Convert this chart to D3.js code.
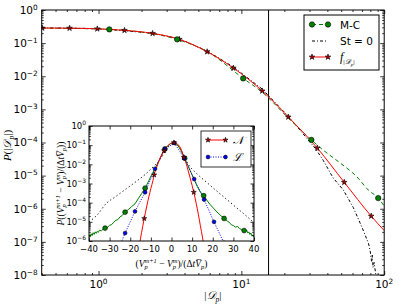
<!DOCTYPE html>
<html>
<head>
<meta charset="utf-8">
<script src="https://cdn.jsdelivr.net/npm/d3@7"></script>
<style>
body { margin: 0; background: #fff; }
svg { display: block; font-family: "DejaVu Sans", sans-serif; }
.math { font-family: "Liberation Serif", "DejaVu Serif", serif; font-style: italic; }
</style>
</head>
<body>
<svg width="399" height="307"></svg>
<script>
const svg = d3.select('svg');

// ---- main panel: P(|D_p|) ----
const fX = [0.404, 0.627, 0.98, 1.52, 2.39, 3.68, 5.76, 8.79, 14.0, 21.3, 34.0, 52.5, 81.1, 100];
const fY = [0.285, 0.283, 0.27, 0.243, 0.197, 0.13, 0.055, 0.0177, 0.0036, 5.9e-4, 6.8e-5, 6.3e-6, 6.0e-7, 2.2e-7];
const fStarX = [0.404, 0.627, 0.98, 1.52, 2.39, 3.68, 5.76, 8.79, 14.0, 21.3, 34.0, 52.5, 81.1];
const fStarY = [0.285, 0.283, 0.27, 0.243, 0.197, 0.13, 0.055, 0.0177, 0.0036, 5.9e-4, 6.8e-5, 6.3e-6, 6.0e-7];

const mcX = [0.404, 1.19, 2.0, 3.55, 6.0, 10.3, 14.0, 21.3, 30.9, 37.4, 49.2, 64.4, 77.3, 90.8, 100];
const mcY = [0.285, 0.26, 0.215, 0.13, 0.05, 0.0086, 0.0033, 5.5e-4, 1.2e-4, 5.9e-5, 2.4e-5, 9.2e-6, 3.7e-6, 2.1e-6, 1.2e-6];
const mcMarkX = [1.19, 3.55, 10.3, 30.9, 90.8];
const mcMarkY = [0.26, 0.13, 0.0086, 1.2e-4, 2.1e-6];

const st0X = [0.404, 0.98, 2.39, 3.68, 5.76, 8.79, 14.0, 21.3, 33.0, 37.4, 44.0, 51.7, 60.7, 69.8, 77.6, 80.0, 81.5, 82.5, 83.5, 85, 88];
const st0Y = [0.29, 0.275, 0.2, 0.135, 0.058, 0.019, 0.0041, 6.2e-4, 6.6e-5, 2.9e-5, 8.4e-6, 3.7e-6, 1.1e-6, 2.8e-7, 9.1e-8, 5e-8, 2.6e-8, 4e-8, 1.7e-8, 2.4e-8, 8e-9];

const vLineX = 15.5;

const mainXMajor = [1, 10, 100];
const mainYExp = [0, -1, -2, -3, -4, -5, -6, -7, -8];

// ---- inset: velocity increment pdf ----
const nX = [-16, -15, -14, -13.2, -12, -11, -10, -9, -8.4, -7, -6, -5, -3.6, -2, -1, 0, 1.2, 2, 3, 4, 5, 6, 7, 8, 9, 10, 10.8, 12, 13, 14, 15, 16];
const nY = [3.2e-7, 1.4e-6, 5.5e-6, 1.5e-5, 6.6e-5, 2.0e-4, 5.6e-4, 1.4e-3, 2.8e-3, 7.9e-3, 0.016, 0.028, 0.052, 0.089, 0.112, 0.129, 0.135, 0.129, 0.112, 0.083, 0.05, 0.023, 0.012, 5.0e-3, 2.0e-3, 7.9e-4, 3.5e-4, 8.9e-5, 2.5e-5, 6.3e-6, 1.6e-6, 3.5e-7];
const nStarX = [-13.2, -8.4, -3.6, 1.2, 6.0, 10.8];
const nStarY = [1.5e-5, 2.8e-3, 0.052, 0.135, 0.023, 3.5e-4];

const lX = [-27.3, -22.5, -17.7, -12.8, -8.0, -3.2, 1.4, 6.2, 11.0, 15.8, 20.6, 25.4];
const lY = [1.5e-7, 2.6e-6, 3.5e-5, 3.5e-4, 5.8e-3, 0.063, 0.13, 0.021, 1.7e-3, 1.45e-4, 1.0e-5, 8e-7];

const gX = [-40, -39.5, -39, -38.5, -38, -37.5, -37, -36.5, -36, -35.5, -35, -34, -33, -32.2, -31, -30, -29, -28, -27, -26, -25, -24, -22.5, -21, -19.5, -17.7, -16, -14.5, -12.8, -11, -9.5, -8, -6, -4.5, -3.2, -2, -0.5, 1.4, 3, 4.5, 6.4, 8, 9.5, 10.9, 12.5, 14, 15.6, 17, 18.5, 20.6, 22, 23.5, 25.5, 27, 28, 29, 30, 31, 32, 33, 34, 35.2, 36, 36.5, 37, 37.5, 38, 38.5, 39, 39.5, 40];
const gY = [2.2e-6, 1.6e-6, 2.4e-6, 1.9e-6, 2.7e-6, 2.2e-6, 3.0e-6, 2.5e-6, 3.2e-6, 2.8e-6, 3.6e-6, 3.4e-6, 4.3e-6, 4.7e-6, 5.2e-6, 6.6e-6, 7.2e-6, 9.5e-6, 1.2e-5, 1.3e-5, 1.8e-5, 2.1e-5, 3.2e-5, 4.3e-5, 6.0e-5, 8.7e-5, 1.7e-4, 3.0e-4, 5.7e-4, 1.4e-3, 3.0e-3, 6.0e-3, 0.016, 0.036, 0.063, 0.09, 0.12, 0.135, 0.1, 0.055, 0.021, 8.5e-3, 3.6e-3, 1.7e-3, 7.0e-4, 3.6e-4, 2.3e-4, 1.4e-4, 8.5e-5, 4.8e-5, 3.3e-5, 2.3e-5, 1.5e-5, 1.1e-5, 9.5e-6, 7.0e-6, 6.4e-6, 5.3e-6, 5.8e-6, 4.4e-6, 4.0e-6, 3.5e-6, 3.1e-6, 3.6e-6, 2.6e-6, 3.0e-6, 2.2e-6, 2.6e-6, 1.8e-6, 2.1e-6, 1.6e-6];
const gMarkX = [-32.2, -22.5, -12.8, -3.2, 6.4, 15.6, 25.5, 35.2];
const gMarkY = [4.7e-6, 3.2e-5, 5.7e-4, 0.063, 0.021, 2.3e-4, 1.5e-5, 3.5e-6];

const sX = [-40, -36, -31.8, -27, -22, -17, -12.4, -8.8, -6.7, -4, -2, 0, 1.2, 3, 5, 8, 12, 17.7, 22, 27.4, 33, 38.7, 40];
const sY = [1.0e-5, 2.3e-5, 8.7e-5, 2.1e-4, 5.2e-4, 1.3e-3, 3.2e-3, 7.6e-3, 0.0126, 0.032, 0.071, 0.117, 0.132, 0.1, 0.045, 0.0105, 3.5e-3, 1.0e-3, 4.0e-4, 1.3e-4, 4.0e-5, 1.2e-5, 8.9e-6];

const insetXMajor = [-40, -30, -20, -10, 0, 10, 20, 30, 40];
const insetYExp = [0, -1, -2, -3, -4, -5, -6];

// ---- helpers ----
const zip = (a, b) => a.map((v, i) => [v, b[i]]);
const logMinor = (lo, hi) => {
  const out = [];
  for (let e = lo; e < hi; e++) for (let k = 2; k <= 9; k++) out.push(k * Math.pow(10, e));
  return out;
};

function frame(g, x, y, c) {
  const w = x.range()[1], h = y.range()[0];
  const sides = [
    [d3.axisBottom, `translate(0,${h})`, x, 'x'],
    [d3.axisTop, 'translate(0,0)', x, 'x'],
    [d3.axisLeft, 'translate(0,0)', y, 'y'],
    [d3.axisRight, `translate(${w},0)`, y, 'y']
  ];
  sides.forEach(([fn, tr, s, k]) => {
    [[c[k + 'Minor'], c.minor], [c[k + 'Major'], c.major]].forEach(([vals, len]) => {
      g.append('g').attr('transform', tr)
        .call(fn(s).tickValues(vals).tickSize(-len).tickSizeOuter(0).tickFormat(''))
        .call(a => a.select('.domain').remove())
        .call(a => a.selectAll('line').attr('stroke', '#000').attr('stroke-width', 0.8));
    });
  });
  g.append('rect').attr('width', w).attr('height', h)
    .attr('fill', 'none').attr('stroke', '#000').attr('stroke-width', 1);
}

function powLabel(sel, exp, size) {
  sel.attr('font-size', size).text('10');
  sel.append('tspan').attr('font-size', size * 0.7).attr('baseline-shift', size * 0.42)
    .text(exp < 0 ? '\u2212' + Math.abs(exp) : String(exp));
}

const lineGen = (x, y, curve) => d3.line().x(d => x(d[0])).y(d => y(d[1])).curve(curve || d3.curveMonotoneX);

function stars(g, pts, x, y, size) {
  g.selectAll(null).data(pts).join('path')
    .attr('transform', d => `translate(${x(d[0])},${y(d[1])})`)
    .attr('d', d3.symbol(d3.symbolStar, size))
    .attr('fill', '#b00000').attr('stroke', '#000').attr('stroke-width', 0.6);
}
function dots(g, pts, x, y, r, fill) {
  g.selectAll(null).data(pts).join('circle')
    .attr('cx', d => x(d[0])).attr('cy', d => y(d[1])).attr('r', r)
    .attr('fill', fill).attr('stroke', '#000').attr('stroke-width', 0.6);
}

// ---- main panel ----
const mL = 41.7, mT = 10, mW = 342.5, mH = 265;
const x = d3.scaleLog().domain([0.4, 100]).range([0, mW]);
const y = d3.scaleLog().domain([1e-8, 1]).range([mH, 0]);

const g = svg.append('g').attr('transform', `translate(${mL},${mT})`);
g.append('clipPath').attr('id', 'clipMain').append('rect').attr('width', mW).attr('height', mH);
const pg = g.append('g').attr('clip-path', 'url(#clipMain)');

pg.append('line').attr('x1', x(vLineX)).attr('x2', x(vLineX)).attr('y1', 0).attr('y2', mH)
  .attr('stroke', '#000').attr('stroke-width', 1);

pg.append('path').datum(zip(st0X, st0Y)).attr('d', lineGen(x, y, d3.curveLinear))
  .attr('fill', 'none').attr('stroke', '#000').attr('stroke-width', 1).attr('stroke-dasharray', '3,2,1,2');
pg.append('path').datum(zip(mcX, mcY)).attr('d', lineGen(x, y))
  .attr('fill', 'none').attr('stroke', '#008000').attr('stroke-width', 1).attr('stroke-dasharray', '4,3');
pg.append('path').datum(zip(fX, fY)).attr('d', lineGen(x, y))
  .attr('fill', 'none').attr('stroke', '#ff0000').attr('stroke-width', 1);
stars(pg, zip(fStarX, fStarY), x, y, 10);
dots(pg, zip(mcMarkX, mcMarkY), x, y, 2.7, '#008000');

frame(g, x, y, {
  xMajor: mainXMajor, xMinor: logMinor(-1, 2).filter(v => v >= 0.4 && v <= 100),
  yMajor: mainYExp.map(e => Math.pow(10, e)), yMinor: logMinor(-8, 0),
  major: 4, minor: 2
});

g.selectAll('.xtl').data(mainXMajor).join('text')
  .attr('x', d => x(d)).attr('y', mH + 13).attr('text-anchor', 'middle')
  .each(function(d) { powLabel(d3.select(this), Math.round(Math.log10(d)), 10.5); });
g.selectAll('.ytl').data(mainYExp).join('text')
  .attr('x', -4).attr('y', d => y(Math.pow(10, d)) + 3.8).attr('text-anchor', 'end')
  .each(function(d) { powLabel(d3.select(this), d, 10.5); });

// axis titles
const xt = g.append('text').attr('class', 'math').attr('x', mW / 2).attr('y', mH + 24)
  .attr('text-anchor', 'middle').attr('font-size', 11);
xt.append('tspan').attr('font-style', 'normal').text('|');
xt.append('tspan').text('\u{1D49F}');
xt.append('tspan').attr('font-size', 7.5).attr('baseline-shift', -2.5).text('p');
xt.append('tspan').attr('font-style', 'normal').text('|');

const yt = g.append('text').attr('class', 'math')
  .attr('transform', `translate(${-31},${mH / 2 + 3}) rotate(-90)`)
  .attr('text-anchor', 'middle').attr('font-size', 11);
yt.append('tspan').text('P');
yt.append('tspan').attr('font-style', 'normal').text('(|');
yt.append('tspan').text('\u{1D49F}');
yt.append('tspan').attr('font-size', 7.5).attr('baseline-shift', -2.5).text('p');
yt.append('tspan').attr('font-style', 'normal').text('|)');

// main legend
const leg = g.append('g').attr('transform', `translate(${304 - mL},${15 - mT})`);
leg.append('rect').attr('width', 75).attr('height', 55).attr('fill', '#fff').attr('stroke', '#000').attr('stroke-width', 1);
const legRows = [
  { y: 9.5, stroke: '#008000', dash: '4,3', mark: 'circle', label: 'M-C' },
  { y: 26, stroke: '#000', dash: '3,2,1,2', mark: null, label: 'St = 0' },
  { y: 42, stroke: '#ff0000', dash: null, mark: 'star', label: 'f' }
];
legRows.forEach(r => {
  leg.append('line').attr('x1', 8).attr('x2', 24).attr('y1', r.y).attr('y2', r.y)
    .attr('stroke', r.stroke).attr('stroke-width', 1).attr('stroke-dasharray', r.dash);
  [8, 24].forEach(px => {
    if (r.mark === 'circle') leg.append('circle').attr('cx', px).attr('cy', r.y).attr('r', 2.7)
      .attr('fill', '#008000').attr('stroke', '#000').attr('stroke-width', 0.6);
    if (r.mark === 'star') leg.append('path').attr('transform', `translate(${px},${r.y})`)
      .attr('d', d3.symbol(d3.symbolStar, 10)).attr('fill', '#b00000').attr('stroke', '#000').attr('stroke-width', 0.6);
  });
  const t = leg.append('text').attr('x', 36).attr('y', r.y + 4).attr('font-size', 10.5);
  if (r.label === 'f') {
    t.attr('class', 'math').attr('font-size', 12).text('f');
    t.append('tspan').attr('font-size', 7).attr('baseline-shift', -3).attr('font-style', 'normal').text('|');
    t.append('tspan').attr('font-size', 7).attr('baseline-shift', -3).text('\u{1D49F}');
    t.append('tspan').attr('font-size', 5).attr('baseline-shift', -4.5).text('p');
    t.append('tspan').attr('font-size', 7).attr('baseline-shift', -3).attr('font-style', 'normal').text('|');
  } else {
    t.text(r.label);
  }
});

// ---- inset ----
const iL = 89, iT = 126, iW = 165, iH = 115;
const ix = d3.scaleLinear().domain([-40, 40]).range([0, iW]);
const iy = d3.scaleLog().domain([1e-6, 1]).range([iH, 0]);

const ig = svg.append('g').attr('transform', `translate(${iL},${iT})`);
ig.append('rect').attr('width', iW).attr('height', iH).attr('fill', '#fff');
ig.append('clipPath').attr('id', 'clipInset').append('rect').attr('width', iW).attr('height', iH);
const ip = ig.append('g').attr('clip-path', 'url(#clipInset)');

ip.append('path').datum(zip(sX, sY)).attr('d', lineGen(ix, iy))
  .attr('fill', 'none').attr('stroke', '#000').attr('stroke-width', 1).attr('stroke-dasharray', '1.2,2.6');
ip.append('path').datum(zip(gX, gY)).attr('d', lineGen(ix, iy, d3.curveLinear))
  .attr('fill', 'none').attr('stroke', '#008000').attr('stroke-width', 1);
ip.append('path').datum(zip(lX, lY)).attr('d', lineGen(ix, iy, d3.curveLinear))
  .attr('fill', 'none').attr('stroke', '#0000ff').attr('stroke-width', 1).attr('stroke-dasharray', '1,1.5');
ip.append('path').datum(zip(nX, nY)).attr('d', lineGen(ix, iy))
  .attr('fill', 'none').attr('stroke', '#ff0000').attr('stroke-width', 1);
dots(ip, zip(gMarkX, gMarkY), ix, iy, 2.4, '#008000');
dots(ip, zip(lX, lY), ix, iy, 1.9, '#0000ff');
stars(ip, zip(nStarX, nStarY), ix, iy, 8);

frame(ig, ix, iy, {
  xMajor: insetXMajor, xMinor: [],
  yMajor: insetYExp.map(e => Math.pow(10, e)), yMinor: logMinor(-6, 0),
  major: 3.5, minor: 1.8
});

ig.selectAll('.ixtl').data(insetXMajor).join('text')
  .attr('x', d => ix(d)).attr('y', iH + 11).attr('text-anchor', 'middle').attr('font-size', 8.5)
  .text(d => d < 0 ? '\u2212' + Math.abs(d) : d);
ig.selectAll('.iytl').data(insetYExp).join('text')
  .attr('x', -3).attr('y', d => iy(Math.pow(10, d)) + 3.2).attr('text-anchor', 'end')
  .each(function(d) { powLabel(d3.select(this), d, 8.5); });

// inset axis titles: (V_p^{m+1} - V_p^m)/(Δt V̄_p)
function velText(t) {
  const sub = s => t.append('tspan').attr('font-size', 6.5).attr('baseline-shift', -2.2).text(s);
  const sup = (s, dx) => t.append('tspan').attr('font-size', 6.5).attr('dx', dx).attr('baseline-shift', 4).text(s);
  const up = s => t.append('tspan').attr('font-style', 'normal').text(s);
  const it = s => t.append('tspan').text(s);
  up('(');
  it('V'); sub('p'); sup('m+1', -3.3);
  up(' \u2212 ');
  it('V'); sub('p'); sup('m', -3.3);
  up(')/(\u0394');
  it('t');
  it('V\u0305'); sub('p');
  up(')');
}
const ixt = ig.append('text').attr('class', 'math').attr('x', iW / 2).attr('y', iH + 26)
  .attr('text-anchor', 'middle').attr('font-size', 9.5);
velText(ixt);

const iyt = ig.append('text').attr('class', 'math')
  .attr('transform', `translate(${-25},${iH / 2}) rotate(-90)`)
  .attr('text-anchor', 'middle').attr('font-size', 9.5);
iyt.append('tspan').text('P');
iyt.append('tspan').attr('font-style', 'normal').text('(');
velText(iyt);
iyt.append('tspan').attr('font-style', 'normal').text(')');

// inset legend
const il = ig.append('g').attr('transform', `translate(${201 - iL},${131 - iT})`);
il.append('rect').attr('width', 50).attr('height', 36).attr('fill', '#fff').attr('stroke', '#000').attr('stroke-width', 0.8);
il.append('line').attr('x1', 7).attr('x2', 24.5).attr('y1', 9).attr('y2', 9).attr('stroke', '#ff0000');
il.append('line').attr('x1', 7).attr('x2', 24.5).attr('y1', 26).attr('y2', 26)
  .attr('stroke', '#0000ff').attr('stroke-dasharray', '1,1.5');
[7, 24.5].forEach(px => {
  il.append('path').attr('transform', `translate(${px},9)`).attr('d', d3.symbol(d3.symbolStar, 8))
    .attr('fill', '#b00000').attr('stroke', '#000').attr('stroke-width', 0.6);
  il.append('circle').attr('cx', px).attr('cy', 26).attr('r', 1.9)
    .attr('fill', '#0000ff').attr('stroke', '#000').attr('stroke-width', 0.6);
});
il.append('text').attr('class', 'math').attr('x', 32).attr('y', 13).attr('font-size', 11).text('\u{1D4A9}');
il.append('text').attr('class', 'math').attr('x', 32).attr('y', 30).attr('font-size', 11).text('\u2112');
</script>
</body>
</html>
